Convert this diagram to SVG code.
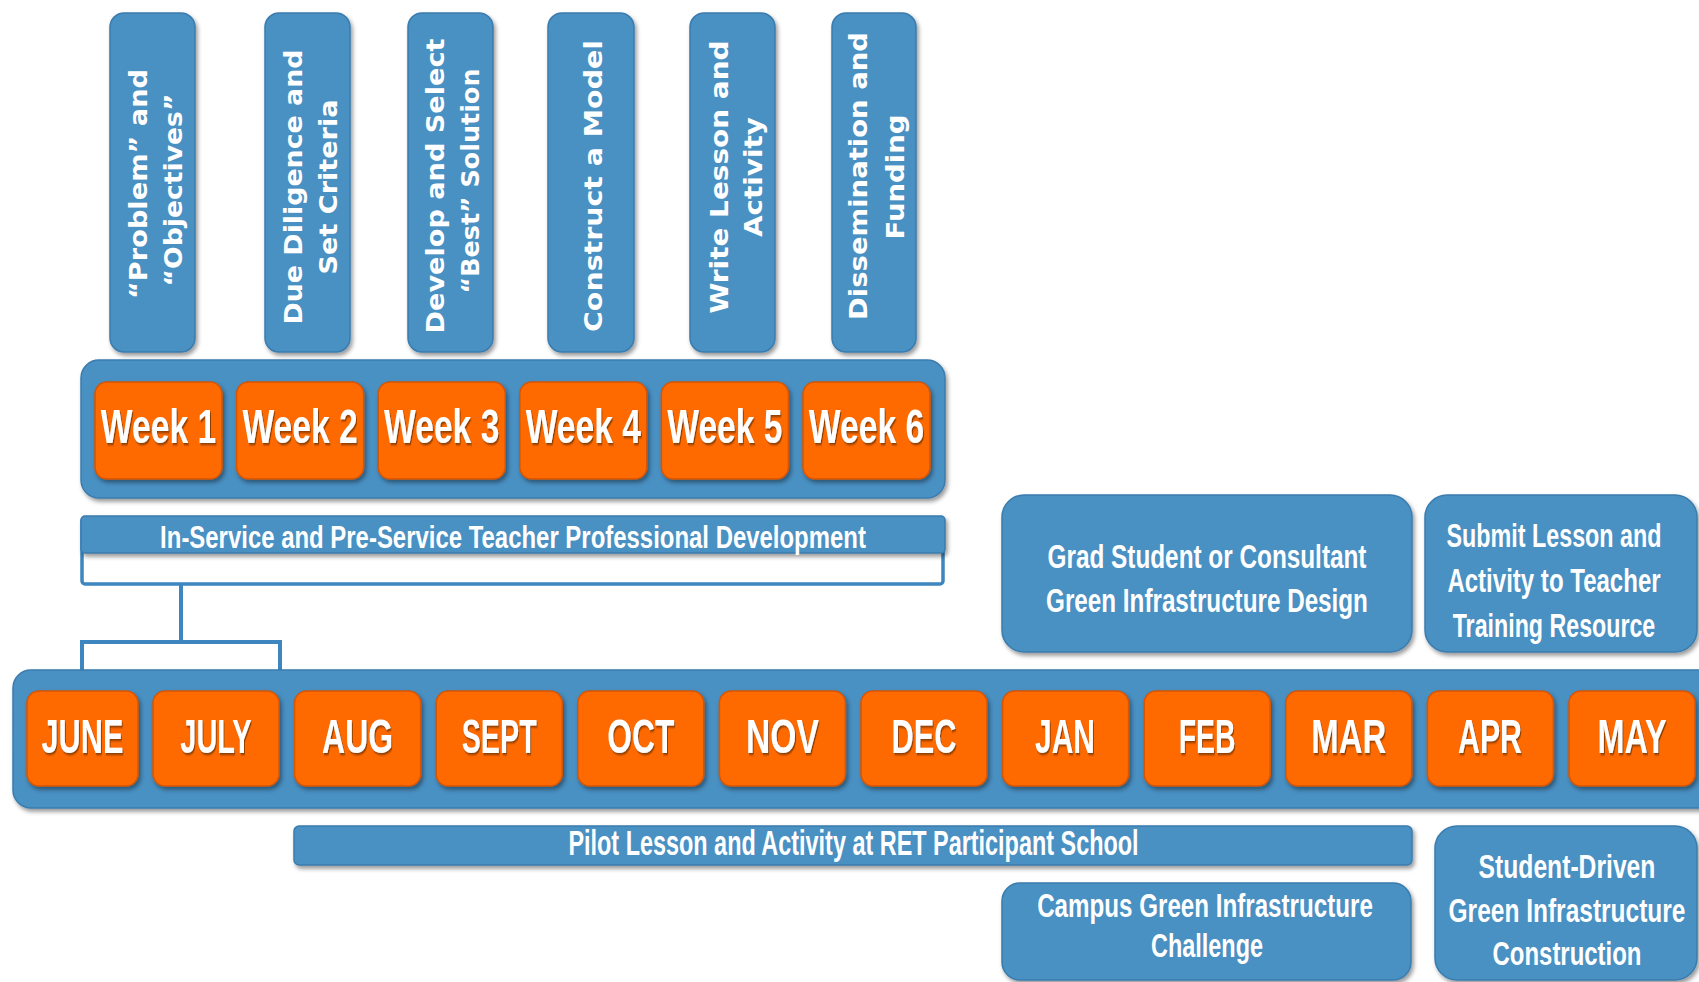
<svg xmlns="http://www.w3.org/2000/svg" width="1699" height="982" viewBox="0 0 1699 982">
<defs>
<filter id="sh" x="-10%" y="-10%" width="120%" height="130%">
<feDropShadow dx="2" dy="3" stdDeviation="2" flood-color="#000" flood-opacity="0.4"/>
</filter>
<filter id="tsh" x="-10%" y="-20%" width="120%" height="150%">
<feDropShadow dx="1.5" dy="2" stdDeviation="1" flood-color="#5a2a00" flood-opacity="0.7"/>
</filter>
</defs>
<style>
.blue{fill:#4a90c3;stroke:#3a7cae;stroke-width:1.5;filter:url(#sh)}
.org{fill:#ff6a00;stroke:#d65400;stroke-width:1.5;filter:url(#sh)}
.vt{font-family:"DejaVu Sans",Verdana,sans-serif;font-weight:bold;font-size:25.5px;fill:#fff;text-anchor:middle}
.lt{font-family:"Liberation Sans",Arial,sans-serif;font-weight:bold;fill:#fff;text-anchor:middle}
.big{font-size:49px;filter:url(#tsh)}
.mid{font-size:34px}
.conn{fill:none;stroke:#3d86c0;stroke-width:4}
</style>
<rect width="1699" height="982" fill="#fff"/>

<g id="steps">
<g id="step1"><rect class="blue" x="110" y="13" width="85" height="339" rx="14"/>
<text class="vt" transform="translate(147,184) rotate(-90)" textLength="230" lengthAdjust="spacingAndGlyphs">“Problem” and</text>
<text class="vt" transform="translate(182,190) rotate(-90)" textLength="193" lengthAdjust="spacingAndGlyphs">“Objectives”</text></g>
<g id="step2"><rect class="blue" x="265" y="13" width="85" height="339" rx="14"/>
<text class="vt" transform="translate(302,187) rotate(-90)" textLength="275" lengthAdjust="spacingAndGlyphs">Due Diligence and</text>
<text class="vt" transform="translate(337,187) rotate(-90)" textLength="175" lengthAdjust="spacingAndGlyphs">Set Criteria</text></g>
<g id="step3"><rect class="blue" x="408" y="13" width="85" height="339" rx="14"/>
<text class="vt" transform="translate(444,186) rotate(-90)" textLength="295" lengthAdjust="spacingAndGlyphs">Develop and Select</text>
<text class="vt" transform="translate(479,181) rotate(-90)" textLength="225" lengthAdjust="spacingAndGlyphs">“Best” Solution</text></g>
<g id="step4"><rect class="blue" x="548" y="13" width="86" height="339" rx="14"/>
<text class="vt" transform="translate(602,186) rotate(-90)" textLength="292" lengthAdjust="spacingAndGlyphs">Construct a Model</text></g>
<g id="step5"><rect class="blue" x="690" y="13" width="85" height="339" rx="14"/>
<text class="vt" transform="translate(728,177) rotate(-90)" textLength="273" lengthAdjust="spacingAndGlyphs">Write Lesson and</text>
<text class="vt" transform="translate(762,177) rotate(-90)" textLength="120" lengthAdjust="spacingAndGlyphs">Activity</text></g>
<g id="step6"><rect class="blue" x="832" y="13" width="84" height="339" rx="14"/>
<text class="vt" transform="translate(867,176) rotate(-90)" textLength="288" lengthAdjust="spacingAndGlyphs">Dissemination and</text>
<text class="vt" transform="translate(904,177) rotate(-90)" textLength="125" lengthAdjust="spacingAndGlyphs">Funding</text></g>
</g>

<g id="weeks">
<rect class="blue" x="81" y="360" width="864" height="138" rx="18"/>
<g id="week1"><rect class="org" x="95" y="382" width="127" height="97" rx="12"/><text class="lt big" transform="translate(158.5,443) scale(0.687,1)">Week 1</text></g>
<g id="week2"><rect class="org" x="236.6" y="382" width="127" height="97" rx="12"/><text class="lt big" transform="translate(300.1,443) scale(0.687,1)">Week 2</text></g>
<g id="week3"><rect class="org" x="378.2" y="382" width="127" height="97" rx="12"/><text class="lt big" transform="translate(441.7,443) scale(0.687,1)">Week 3</text></g>
<g id="week4"><rect class="org" x="519.8" y="382" width="127" height="97" rx="12"/><text class="lt big" transform="translate(583.3,443) scale(0.687,1)">Week 4</text></g>
<g id="week5"><rect class="org" x="661.4" y="382" width="127" height="97" rx="12"/><text class="lt big" transform="translate(724.9,443) scale(0.687,1)">Week 5</text></g>
<g id="week6"><rect class="org" x="803" y="382" width="127" height="97" rx="12"/><text class="lt big" transform="translate(866.5,443) scale(0.687,1)">Week 6</text></g>
</g>

<g id="pd">
<rect x="82" y="518" width="861" height="66" rx="3" fill="#fff" stroke="#3d86c0" stroke-width="3.5"/>
<rect class="blue" x="81" y="516" width="864" height="37" rx="4"/>
<text class="lt" font-size="32" transform="translate(513,548) scale(0.748,1)">In-Service and Pre-Service Teacher Professional Development</text>
</g>

<g id="connectors">
<path class="conn" d="M181,584 V642"/>
<path class="conn" d="M82,672 V642 H280 V672"/>
</g>

<g id="months">
<rect class="blue" x="13" y="670" width="1720" height="138" rx="18"/>
<g id="m-jun"><rect class="org" x="27" y="691" width="111" height="95" rx="12"/><text class="lt big" transform="translate(82.5,753) scale(0.627,1)">JUNE</text></g>
<g id="m-jul"><rect class="org" x="153" y="691" width="126" height="95" rx="12"/><text class="lt big" transform="translate(216,753) scale(0.591,1)">JULY</text></g>
<g id="m-aug"><rect class="org" x="294.6" y="691" width="126" height="95" rx="12"/><text class="lt big" transform="translate(357.6,753) scale(0.652,1)">AUG</text></g>
<g id="m-sep"><rect class="org" x="436.2" y="691" width="126" height="95" rx="12"/><text class="lt big" transform="translate(499.2,753) scale(0.586,1)">SEPT</text></g>
<g id="m-oct"><rect class="org" x="577.8" y="691" width="126" height="95" rx="12"/><text class="lt big" transform="translate(640.8,753) scale(0.648,1)">OCT</text></g>
<g id="m-nov"><rect class="org" x="719.4" y="691" width="126" height="95" rx="12"/><text class="lt big" transform="translate(782.4,753) scale(0.687,1)">NOV</text></g>
<g id="m-dec"><rect class="org" x="861" y="691" width="126" height="95" rx="12"/><text class="lt big" transform="translate(924,753) scale(0.629,1)">DEC</text></g>
<g id="m-jan"><rect class="org" x="1002.6" y="691" width="126" height="95" rx="12"/><text class="lt big" transform="translate(1065,753) scale(0.612,1)">JAN</text></g>
<g id="m-feb"><rect class="org" x="1144.2" y="691" width="126" height="95" rx="12"/><text class="lt big" transform="translate(1207.2,753) scale(0.582,1)">FEB</text></g>
<g id="m-mar"><rect class="org" x="1285.8" y="691" width="126" height="95" rx="12"/><text class="lt big" transform="translate(1348.8,753) scale(0.672,1)">MAR</text></g>
<g id="m-apr"><rect class="org" x="1427.4" y="691" width="126" height="95" rx="12"/><text class="lt big" transform="translate(1490,753) scale(0.619,1)">APR</text></g>
<g id="m-may"><rect class="org" x="1569" y="691" width="126" height="95" rx="12"/><text class="lt big" transform="translate(1632,753) scale(0.661,1)">MAY</text></g>
</g>

<g id="grad">
<rect class="blue" x="1002" y="495" width="410" height="157" rx="22"/>
<text class="lt mid" transform="translate(1207,568) scale(0.716,1)">Grad Student or Consultant</text>
<text class="lt mid" transform="translate(1207,612) scale(0.713,1)">Green Infrastructure Design</text>
</g>

<g id="submit">
<rect class="blue" x="1425" y="495" width="272" height="157" rx="22"/>
<text class="lt mid" transform="translate(1554,547) scale(0.686,1)">Submit Lesson and</text>
<text class="lt mid" transform="translate(1554,592) scale(0.707,1)">Activity to Teacher</text>
<text class="lt mid" transform="translate(1554,637) scale(0.683,1)">Training Resource</text>
</g>

<g id="pilot">
<rect class="blue" x="294" y="826" width="1118" height="39" rx="5"/>
<text class="lt" font-size="35" transform="translate(853.5,855) scale(0.669,1)">Pilot Lesson and Activity at RET Participant School</text>
</g>

<g id="campus">
<rect class="blue" x="1002" y="883" width="409" height="97" rx="18"/>
<text class="lt mid" transform="translate(1205,917) scale(0.711,1)">Campus Green Infrastructure</text>
<text class="lt mid" transform="translate(1207,957) scale(0.689,1)">Challenge</text>
</g>

<g id="student">
<rect class="blue" x="1435" y="826" width="262" height="154" rx="22"/>
<text class="lt mid" transform="translate(1567,878) scale(0.726,1)">Student-Driven</text>
<text class="lt mid" transform="translate(1567,922) scale(0.721,1)">Green Infrastructure</text>
<text class="lt mid" transform="translate(1567,965) scale(0.704,1)">Construction</text>
</g>
</svg>
